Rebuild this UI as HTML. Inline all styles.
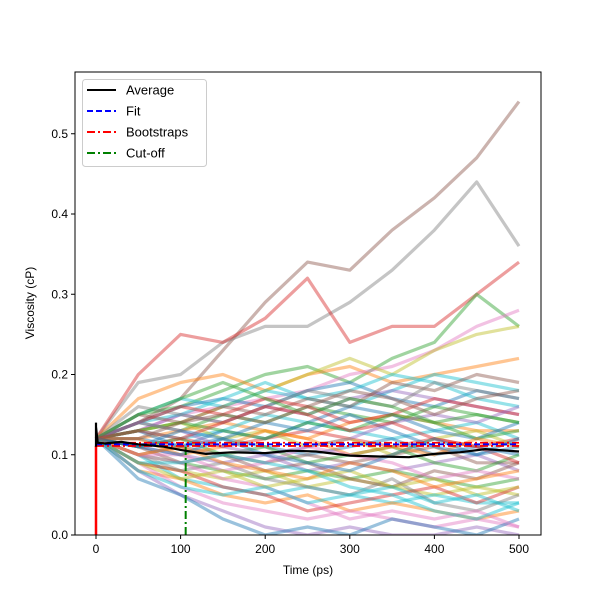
<!DOCTYPE html>
<html><head><meta charset="utf-8"><style>
body{margin:0;background:#fff}
svg{font-family:"Liberation Sans","DejaVu Sans",sans-serif}
</style></head><body>
<svg id="chart" width="600" height="600">
<rect width="600" height="600" fill="#fff"/>
<g id="traces"></g>
<g id="mainlines"></g>
<g id="axes"></g>
</svg>
<script>
const tVals=[0,50,100,150,200,250,300,350,400,450,500];
const traceData=[
[0.12,0.14,0.17,0.23,0.29,0.34,0.33,0.38,0.42,0.47,0.54],
[0.12,0.19,0.20,0.24,0.26,0.26,0.29,0.33,0.38,0.44,0.36],
[0.12,0.20,0.25,0.24,0.27,0.32,0.24,0.26,0.26,0.30,0.34],
[0.12,0.15,0.16,0.18,0.20,0.21,0.19,0.22,0.24,0.30,0.26],
[0.12,0.17,0.19,0.20,0.18,0.20,0.21,0.19,0.20,0.21,0.22],
[0.12,0.13,0.15,0.16,0.17,0.18,0.20,0.21,0.23,0.26,0.28],
[0.12,0.13,0.14,0.16,0.18,0.20,0.22,0.20,0.23,0.25,0.26],
[0.12,0.15,0.17,0.16,0.18,0.17,0.16,0.18,0.20,0.19,0.18],
[0.12,0.14,0.16,0.17,0.16,0.18,0.19,0.17,0.16,0.18,0.17],
[0.12,0.13,0.15,0.14,0.16,0.15,0.17,0.18,0.17,0.16,0.15],
[0.12,0.14,0.13,0.15,0.14,0.16,0.15,0.14,0.16,0.15,0.14],
[0.12,0.12,0.13,0.14,0.13,0.12,0.14,0.15,0.14,0.13,0.13],
[0.12,0.13,0.12,0.13,0.15,0.14,0.13,0.12,0.13,0.14,0.12],
[0.12,0.11,0.12,0.11,0.12,0.13,0.12,0.11,0.12,0.11,0.12],
[0.12,0.12,0.11,0.12,0.11,0.10,0.11,0.12,0.10,0.11,0.10],
[0.12,0.10,0.11,0.10,0.09,0.10,0.09,0.10,0.11,0.09,0.09],
[0.12,0.11,0.10,0.09,0.10,0.08,0.09,0.08,0.09,0.10,0.08],
[0.12,0.10,0.09,0.08,0.07,0.08,0.07,0.08,0.07,0.06,0.07],
[0.12,0.09,0.08,0.07,0.08,0.06,0.07,0.06,0.05,0.06,0.05],
[0.12,0.10,0.07,0.06,0.05,0.06,0.05,0.04,0.05,0.04,0.04],
[0.12,0.08,0.07,0.05,0.04,0.05,0.03,0.04,0.03,0.02,0.03],
[0.12,0.09,0.06,0.04,0.03,0.02,0.03,0.02,0.01,0.02,0.01],
[0.12,0.08,0.05,0.03,0.01,0.00,0.01,0.00,0.00,0.01,0.00],
[0.12,0.07,0.05,0.02,0.00,0.01,0.00,0.02,0.01,0.00,0.02],
[0.12,0.09,0.08,0.06,0.05,0.03,0.04,0.05,0.06,0.04,0.06],
[0.12,0.11,0.09,0.10,0.08,0.09,0.07,0.06,0.08,0.07,0.09],
[0.12,0.13,0.14,0.12,0.13,0.11,0.12,0.10,0.12,0.13,0.11],
[0.12,0.14,0.15,0.17,0.19,0.17,0.18,0.20,0.19,0.17,0.16],
[0.12,0.10,0.08,0.09,0.07,0.06,0.05,0.07,0.04,0.03,0.05],
[0.12,0.11,0.12,0.10,0.11,0.09,0.10,0.11,0.09,0.08,0.10],
[0.12,0.13,0.11,0.13,0.12,0.14,0.16,0.15,0.13,0.12,0.14],
[0.12,0.10,0.09,0.07,0.06,0.04,0.02,0.03,0.02,0.03,0.01],
[0.12,0.15,0.14,0.16,0.15,0.17,0.16,0.19,0.18,0.20,0.19],
[0.12,0.16,0.15,0.14,0.16,0.18,0.17,0.16,0.19,0.18,0.17],
[0.12,0.14,0.16,0.15,0.17,0.16,0.14,0.15,0.17,0.16,0.15],
[0.12,0.13,0.14,0.13,0.12,0.14,0.13,0.15,0.14,0.12,0.13],
[0.12,0.12,0.10,0.11,0.13,0.12,0.10,0.11,0.10,0.12,0.11],
[0.12,0.10,0.10,0.08,0.09,0.11,0.10,0.09,0.07,0.08,0.07],
[0.12,0.09,0.07,0.08,0.06,0.07,0.08,0.06,0.07,0.05,0.06],
[0.12,0.08,0.06,0.05,0.06,0.04,0.05,0.06,0.04,0.05,0.03],
[0.12,0.11,0.10,0.12,0.14,0.13,0.15,0.13,0.11,0.10,0.12],
[0.12,0.14,0.13,0.11,0.10,0.11,0.12,0.14,0.15,0.14,0.16],
[0.12,0.15,0.17,0.19,0.17,0.15,0.17,0.16,0.14,0.15,0.14],
[0.12,0.10,0.11,0.09,0.08,0.07,0.09,0.08,0.06,0.07,0.08],
[0.12,0.09,0.09,0.10,0.09,0.08,0.06,0.05,0.03,0.02,0.04],
[0.12,0.13,0.12,0.14,0.16,0.15,0.13,0.14,0.12,0.11,0.09],
[0.12,0.11,0.13,0.12,0.10,0.09,0.08,0.10,0.12,0.10,0.11],
[0.12,0.12,0.14,0.15,0.14,0.16,0.18,0.17,0.15,0.17,0.18]
];
const traceColors=["#8c564b","#7f7f7f","#d62728","#2ca02c","#ff7f0e","#e377c2","#bcbd22","#17becf","#1f77b4","#9467bd","#2ca02c","#ff7f0e","#17becf","#d62728","#1f77b4","#8c564b","#9467bd","#2ca02c","#bcbd22","#17becf","#ff7f0e","#e377c2","#9467bd","#1f77b4","#d62728","#8c564b","#bcbd22","#17becf","#7f7f7f","#2ca02c","#1f77b4","#e377c2"];
const avgT=[0,2,10,30,50,80,100,130,160,200,230,260,300,330,370,400,430,460,500];
const avgV=[0.135,0.115,0.114,0.116,0.113,0.11,0.106,0.101,0.103,0.102,0.105,0.104,0.099,0.098,0.097,0.101,0.103,0.107,0.104];
const fitValue=0.113;
const bootValues=[0.111,0.115];
const cutoffT=106;
const xTicks=[0,100,200,300,400,500];
const yTicks=[0.0,0.1,0.2,0.3,0.4,0.5];

const L=75,R=541,T=72,B=535;
const xs=t=>96+(t-0)*(423/500);
const ys=v=>535-v*802.5;
const NS="http://www.w3.org/2000/svg";
function mk(tag,attrs,parent){const e=document.createElementNS(NS,tag);for(const k in attrs)e.setAttribute(k,attrs[k]);parent.appendChild(e);return e;}

const svg=document.getElementById('chart');
const defs=mk('defs',{},svg);
const cp=mk('clipPath',{id:'clip'},defs);
mk('rect',{x:L,y:T,width:R-L,height:B-T},cp);
const tg=document.getElementById('traces');
tg.setAttribute('clip-path','url(#clip)');
traceData.forEach((vals,i)=>{
  const d=vals.map((v,j)=>(j?'L':'M')+xs(tVals[j]).toFixed(1)+','+ys(v).toFixed(1)).join('');
  const p=mk('path',{d:d,fill:'none',stroke:traceColors[i%traceColors.length],'stroke-width':3.2,'stroke-opacity':0.45,'stroke-linejoin':'round'},tg);
  
  
});
const mg=document.getElementById('mainlines');
mg.setAttribute('clip-path','url(#clip)');
let p;
p=mk('line',{x1:xs(0),x2:xs(0),y1:ys(0),y2:ys(bootValues[0]),stroke:'#ff0000','stroke-width':2.5},mg);


bootValues.forEach((v,i)=>{
  const b=mk('line',{x1:xs(0),x2:xs(500),y1:ys(v),y2:ys(v),stroke:'#ff0000','stroke-width':1.8,'stroke-dasharray':'8 3 2 3'},mg);
  
  
});
p=mk('line',{x1:xs(0),x2:xs(500),y1:ys(fitValue),y2:ys(fitValue),stroke:'#0000ff','stroke-width':1.8,'stroke-dasharray':'6 3'},mg);


p=mk('line',{x1:xs(cutoffT),x2:xs(cutoffT),y1:ys(0),y2:ys(fitValue),stroke:'#008000','stroke-width':2,'stroke-dasharray':'8 3 2 3'},mg);


p=mk('path',{d:avgT.map((t,j)=>(j?'L':'M')+xs(t).toFixed(1)+','+ys(avgV[j]).toFixed(1)).join('')+'M'+xs(0)+','+ys(0.14)+'L'+xs(0)+','+ys(0.11),fill:'none',stroke:'#000','stroke-width':2.2},mg);



const ag=document.getElementById('axes');
p=mk('rect',{x:L,y:T,width:R-L,height:B-T,fill:'none',stroke:'#000','stroke-width':1},ag);


xTicks.forEach(t=>{
  mk('line',{x1:xs(t),x2:xs(t),y1:B,y2:B+4,stroke:'#000'},ag);
  const tx=mk('text',{x:xs(t),y:B+18,'text-anchor':'middle','font-size':12},ag);
  tx.textContent=t;
  
  
});
yTicks.forEach(v=>{
  mk('line',{x1:L-4,x2:L,y1:ys(v),y2:ys(v),stroke:'#000'},ag);
  const tx=mk('text',{x:L-7,y:ys(v)+4,'text-anchor':'end','font-size':12},ag);
  tx.textContent=v.toFixed(1);
  
  
});
let tt=mk('text',{x:308,y:574,'text-anchor':'middle','font-size':12},ag);
tt.textContent='Time (ps)';


tt=mk('text',{x:34,y:303,'text-anchor':'middle','font-size':12,transform:'rotate(-90 34 303)'},ag);
tt.textContent='Viscosity (cP)';



const lg=mk('g',{},ag);


mk('rect',{x:82.5,y:79.5,width:124,height:87,rx:3,fill:'#fff','fill-opacity':0.8,stroke:'#ccc'},lg);
const entries=[['Average','#000',''],['Fit','#0000ff','6 3'],['Bootstraps','#ff0000','8 3 2 3'],['Cut-off','#008000','8 3 2 3']];
entries.forEach((e,i)=>{
  const y=90+i*21;
  const g=mk('g',{},lg);
  
  
  const a={x1:87,x2:116,y1:y,y2:y,stroke:e[1],'stroke-width':2};
  if(e[2])a['stroke-dasharray']=e[2];
  mk('line',a,g);
  const t=mk('text',{x:126,y:y+4.5,'font-size':13},g);
  t.textContent=e[0];
});
</script>
</body></html>
